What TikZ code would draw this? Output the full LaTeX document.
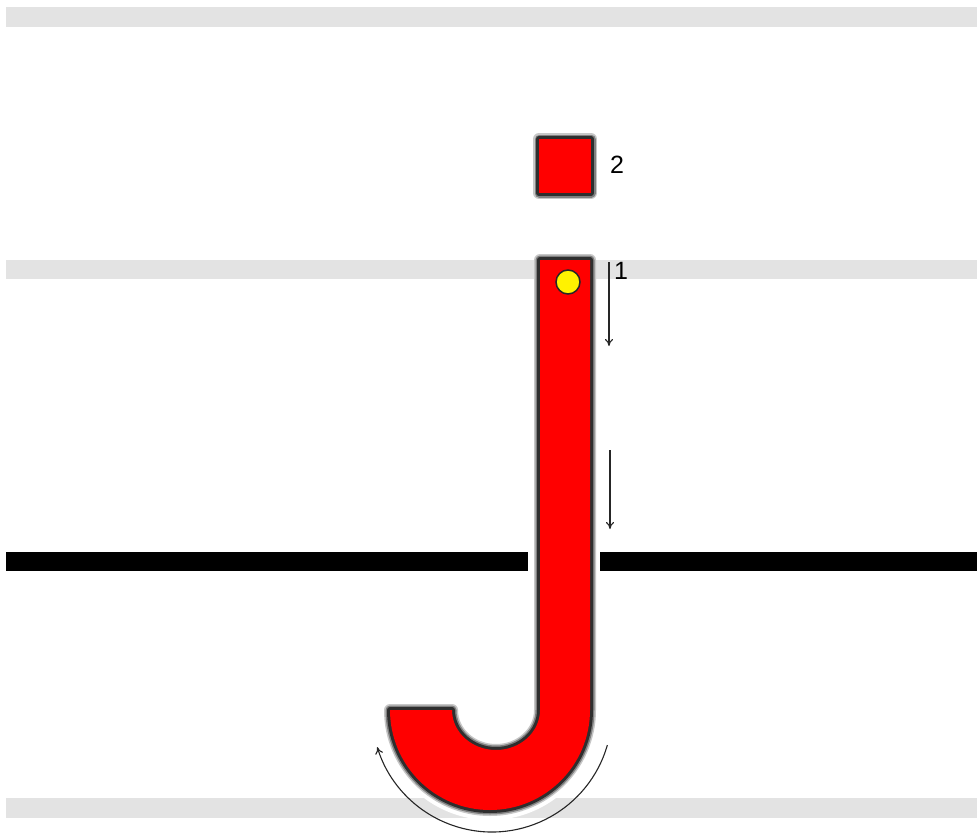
\documentclass[tikz,border=0pt]{standalone}
\usepackage{fontspec}
\setmainfont{Liberation Sans}
\usetikzlibrary{arrows.meta}
\tikzset{
  band/.style={fill=black!11, draw=none},
  baseline/.style={fill=black, draw=none},
  halo/.style={draw=white, line width=20pt, line join=round},
  glow/.style={draw=black!22, line width=12pt, line join=round},
  glowin/.style={draw=black!50, line width=9pt, line join=round},
  edge/.style={draw=black!82, line width=6pt, line join=round},
  redfill/.style={fill=red, draw=none},
  guide/.style={draw=black!85, line width=1.1pt, -{To[length=7pt,width=8pt]}},
  lbl/.style={font=\fontsize{25}{25}\selectfont, inner sep=0pt}
}
\begin{document}
\begin{tikzpicture}[x=1pt,y=-1pt]
\useasboundingbox[fill=white] (0,0) rectangle (977,835);
% bands
\fill[band] (6,7) rectangle (977,27);
\fill[band] (6,260) rectangle (977,279);
\fill[band] (6,798) rectangle (977,818);
% baseline
\fill[baseline] (6,552) rectangle (528,571);
\fill[baseline] (600,552) rectangle (977,571);
% J shape
\def\jpath{(540,260) -- (590,260) -- (590,710) arc[start angle=0,end angle=180,radius=100] -- (452,710) arc[start angle=180,end angle=0,x radius=44,y radius=40] -- cycle}
\path[halo] (540,700) -- (590,700) -- (590,710) arc[start angle=0,end angle=180,radius=100] -- (452,710) arc[start angle=180,end angle=0,x radius=44,y radius=40] -- cycle;
\path[glow] \jpath;
\path[glowin] \jpath;
\path[edge] \jpath;
\path[redfill] \jpath;
% yellow dot
\node[circle, fill=yellow, draw=black!85, line width=1.5pt, minimum size=24pt, inner sep=0pt] (dot) at (568,282) {};
% square 2
\path[glow] (539,139) rectangle (591,193);
\path[glowin] (539,139) rectangle (591,193);
\path[edge] (539,139) rectangle (591,193);
\node[fill=red, minimum width=52pt, minimum height=54pt, inner sep=0pt] (sq) at (565,166) {};
\node[lbl, anchor=west] (two) at (610,165) {2};
\node[lbl, anchor=west] (one) at (614,271) {1};
% arrows
\coordinate (a1s) at (609,262);
\coordinate (a1e) at (609,346);
\coordinate (a2s) at (610,450);
\coordinate (a2e) at (610,529);
\draw[guide] (a1s) -- (a1e);
\draw[guide] (a2s) -- (a2e);
% curved arrow
\draw[guide] (492,712) ++(16:120) arc[start angle=16,end angle=163,radius=120];
\end{tikzpicture}
\end{document}
